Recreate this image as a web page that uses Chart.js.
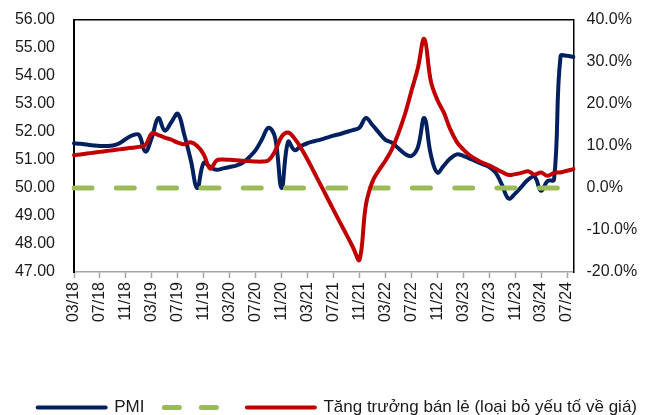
<!DOCTYPE html>
<html>
<head>
<meta charset="utf-8">
<script src="https://cdn.jsdelivr.net/npm/chart.js@4.4.1/dist/chart.umd.min.js"></script>
<style>
html,body{margin:0;padding:0;background:#fff;overflow:hidden}
#wrap{position:relative;width:650px;height:426px}
</style>
</head>
<body>
<div id="wrap"><canvas id="c"></canvas></div>
<script>
'use strict';
const NAVY='#002060',RED='#C00000',GREEN='#9BBB59',INK='#1a1a1a',AXIS='#a6a6a6';

// months 03/18 .. 08/24
const MONTHS=['03/18','04/18','05/18','06/18','07/18','08/18','09/18','10/18','11/18','12/18',
  '01/19','02/19','03/19','04/19','05/19','06/19','07/19','08/19','09/19','10/19','11/19','12/19',
  '01/20','02/20','03/20','04/20','05/20','06/20','07/20','08/20','09/20','10/20','11/20','12/20',
  '01/21','02/21','03/21','04/21','05/21','06/21','07/21','08/21','09/21','10/21','11/21','12/21',
  '01/22','02/22','03/22','04/22','05/22','06/22','07/22','08/22','09/22','10/22','11/22','12/22',
  '01/23','02/23','03/23','04/23','05/23','06/23','07/23','08/23','09/23','10/23','11/23','12/23',
  '01/24','02/24','03/24','04/24','05/24','06/24','07/24','08/24'];

const PMI=[51.6,51.58,51.55,51.52,51.5,51.5,51.52,51.6,51.75,51.88,
  51.9,51.3,51.8,52.5,52.05,52.35,52.65,51.9,51.0,50.0,50.9,50.75,
  50.65,50.7,50.75,50.8,50.9,51.1,51.35,51.75,52.15,51.8,50.0,51.65,
  51.35,51.5,51.6,51.67,51.73,51.8,51.87,51.93,52.0,52.07,52.15,52.5,
  52.25,51.98,51.72,51.62,51.42,51.22,51.14,51.45,52.5,51.2,50.55,50.8,
  51.05,51.2,51.15,51.05,50.95,50.85,50.75,50.55,50.1,49.62,49.8,50.05,
  50.3,50.4,49.9,50.25,50.3,54.7,54.72,54.68];

const RETAIL=[7.8,8.0,8.2,8.4,8.6,8.8,9.0,9.2,9.4,9.6,
  9.8,10.2,13.0,12.6,12.0,11.5,10.8,10.4,10.9,10.0,8.0,4.6,
  6.6,6.8,6.7,6.6,6.5,6.4,6.3,6.3,6.6,8.8,12.2,13.2,
  11.8,9.5,6.8,3.8,0.8,-2.2,-5.2,-8.2,-11.1,-14.1,-17.1,-4.0,
  1.5,4.2,6.5,9.2,13.0,17.5,23.0,28.5,35.5,25.5,21.0,18.0,
  14.0,11.0,9.2,7.8,6.8,6.0,5.4,4.6,3.8,3.1,3.3,3.6,
  4.0,3.2,3.7,2.9,3.6,3.7,4.1,4.5];

const PMI_THRESHOLD=50;
const LABEL_PMI='PMI';
const LABEL_RETAIL='Tăng trưởng bán lẻ (loại bỏ yếu tố về giá)';

Chart.defaults.font.family="'Liberation Sans', Arial, sans-serif";
Chart.defaults.color=INK;

const line=(label,data,color,axis,order,extra)=>Object.assign({label,data,borderColor:color,backgroundColor:color,borderWidth:4,
  pointRadius:0,tension:.4,fill:false,yAxisID:axis,order,borderCapStyle:'round',borderJoinStyle:'round'},extra||{});

new Chart(document.getElementById('c'),{
  type:'line',
  data:{labels:MONTHS,datasets:[
    line(LABEL_PMI,PMI,NAVY,'y',3),
    line('',MONTHS.map(()=>PMI_THRESHOLD),GREEN,'y',2,{borderWidth:5,borderDash:[18,24.3],tension:0}),
    line(LABEL_RETAIL,RETAIL,RED,'y1',1)
  ]},
  options:{
    responsive:true,maintainAspectRatio:false,animation:false,
    layout:{padding:{top:20,left:0,right:0,bottom:0}},
    plugins:{
      tooltip:{enabled:false},
      legend:{position:'bottom',align:'end',
        labels:{usePointStyle:true,pointStyle:'line',pointStyleWidth:68,padding:13,color:INK,font:{size:17},
          generateLabels:ch=>ch.data.datasets.map((ds,i)=>({
            text:ds.label,strokeStyle:ds.borderColor,fillStyle:ds.borderColor,lineWidth:ds.borderDash?5:4,
            lineDash:ds.borderDash?[15,22]:[],lineDashOffset:ds.borderDash?-7:0,lineCap:'round',
            pointStyle:'line',datasetIndex:i,hidden:false,fontColor:INK}))}}
    },
    scales:{
      x:{type:'category',offset:false,
        border:{color:AXIS,width:1.5},
        grid:{drawOnChartArea:false,drawTicks:true,tickLength:6,tickWidth:1.5,
          tickColor:c=>c.index%4===0?AXIS:'rgba(0,0,0,0)'},
        ticks:{autoSkip:false,minRotation:90,maxRotation:90,padding:4,font:{size:16},color:INK,
          callback:(v,i)=>i%4===0?MONTHS[i]:''},
        afterFit:s=>{s.height=114;}},
      xTop:{type:'category',position:'top',display:true,grid:{display:false,drawTicks:false},ticks:{display:false},
        border:{color:'#000',width:1.5},afterFit:s=>{s.height=0;}},
      y:{position:'left',min:47,max:56,
        border:{color:'#000',width:2},grid:{display:false,drawTicks:true,tickLength:19},
        ticks:{stepSize:1,padding:0,font:{size:16},color:INK,callback:v=>v.toFixed(2)},
        afterFit:s=>{s.width=74;}},
      y1:{position:'right',min:-20,max:40,
        border:{color:'#000',width:1.5},grid:{display:false,drawTicks:true,tickLength:13},
        ticks:{stepSize:10,padding:0,font:{size:16},color:INK,callback:v=>v.toFixed(1)+'%'},
        afterFit:s=>{s.width=76.5;}}
    }
  }
});
</script>
</body>
</html>
